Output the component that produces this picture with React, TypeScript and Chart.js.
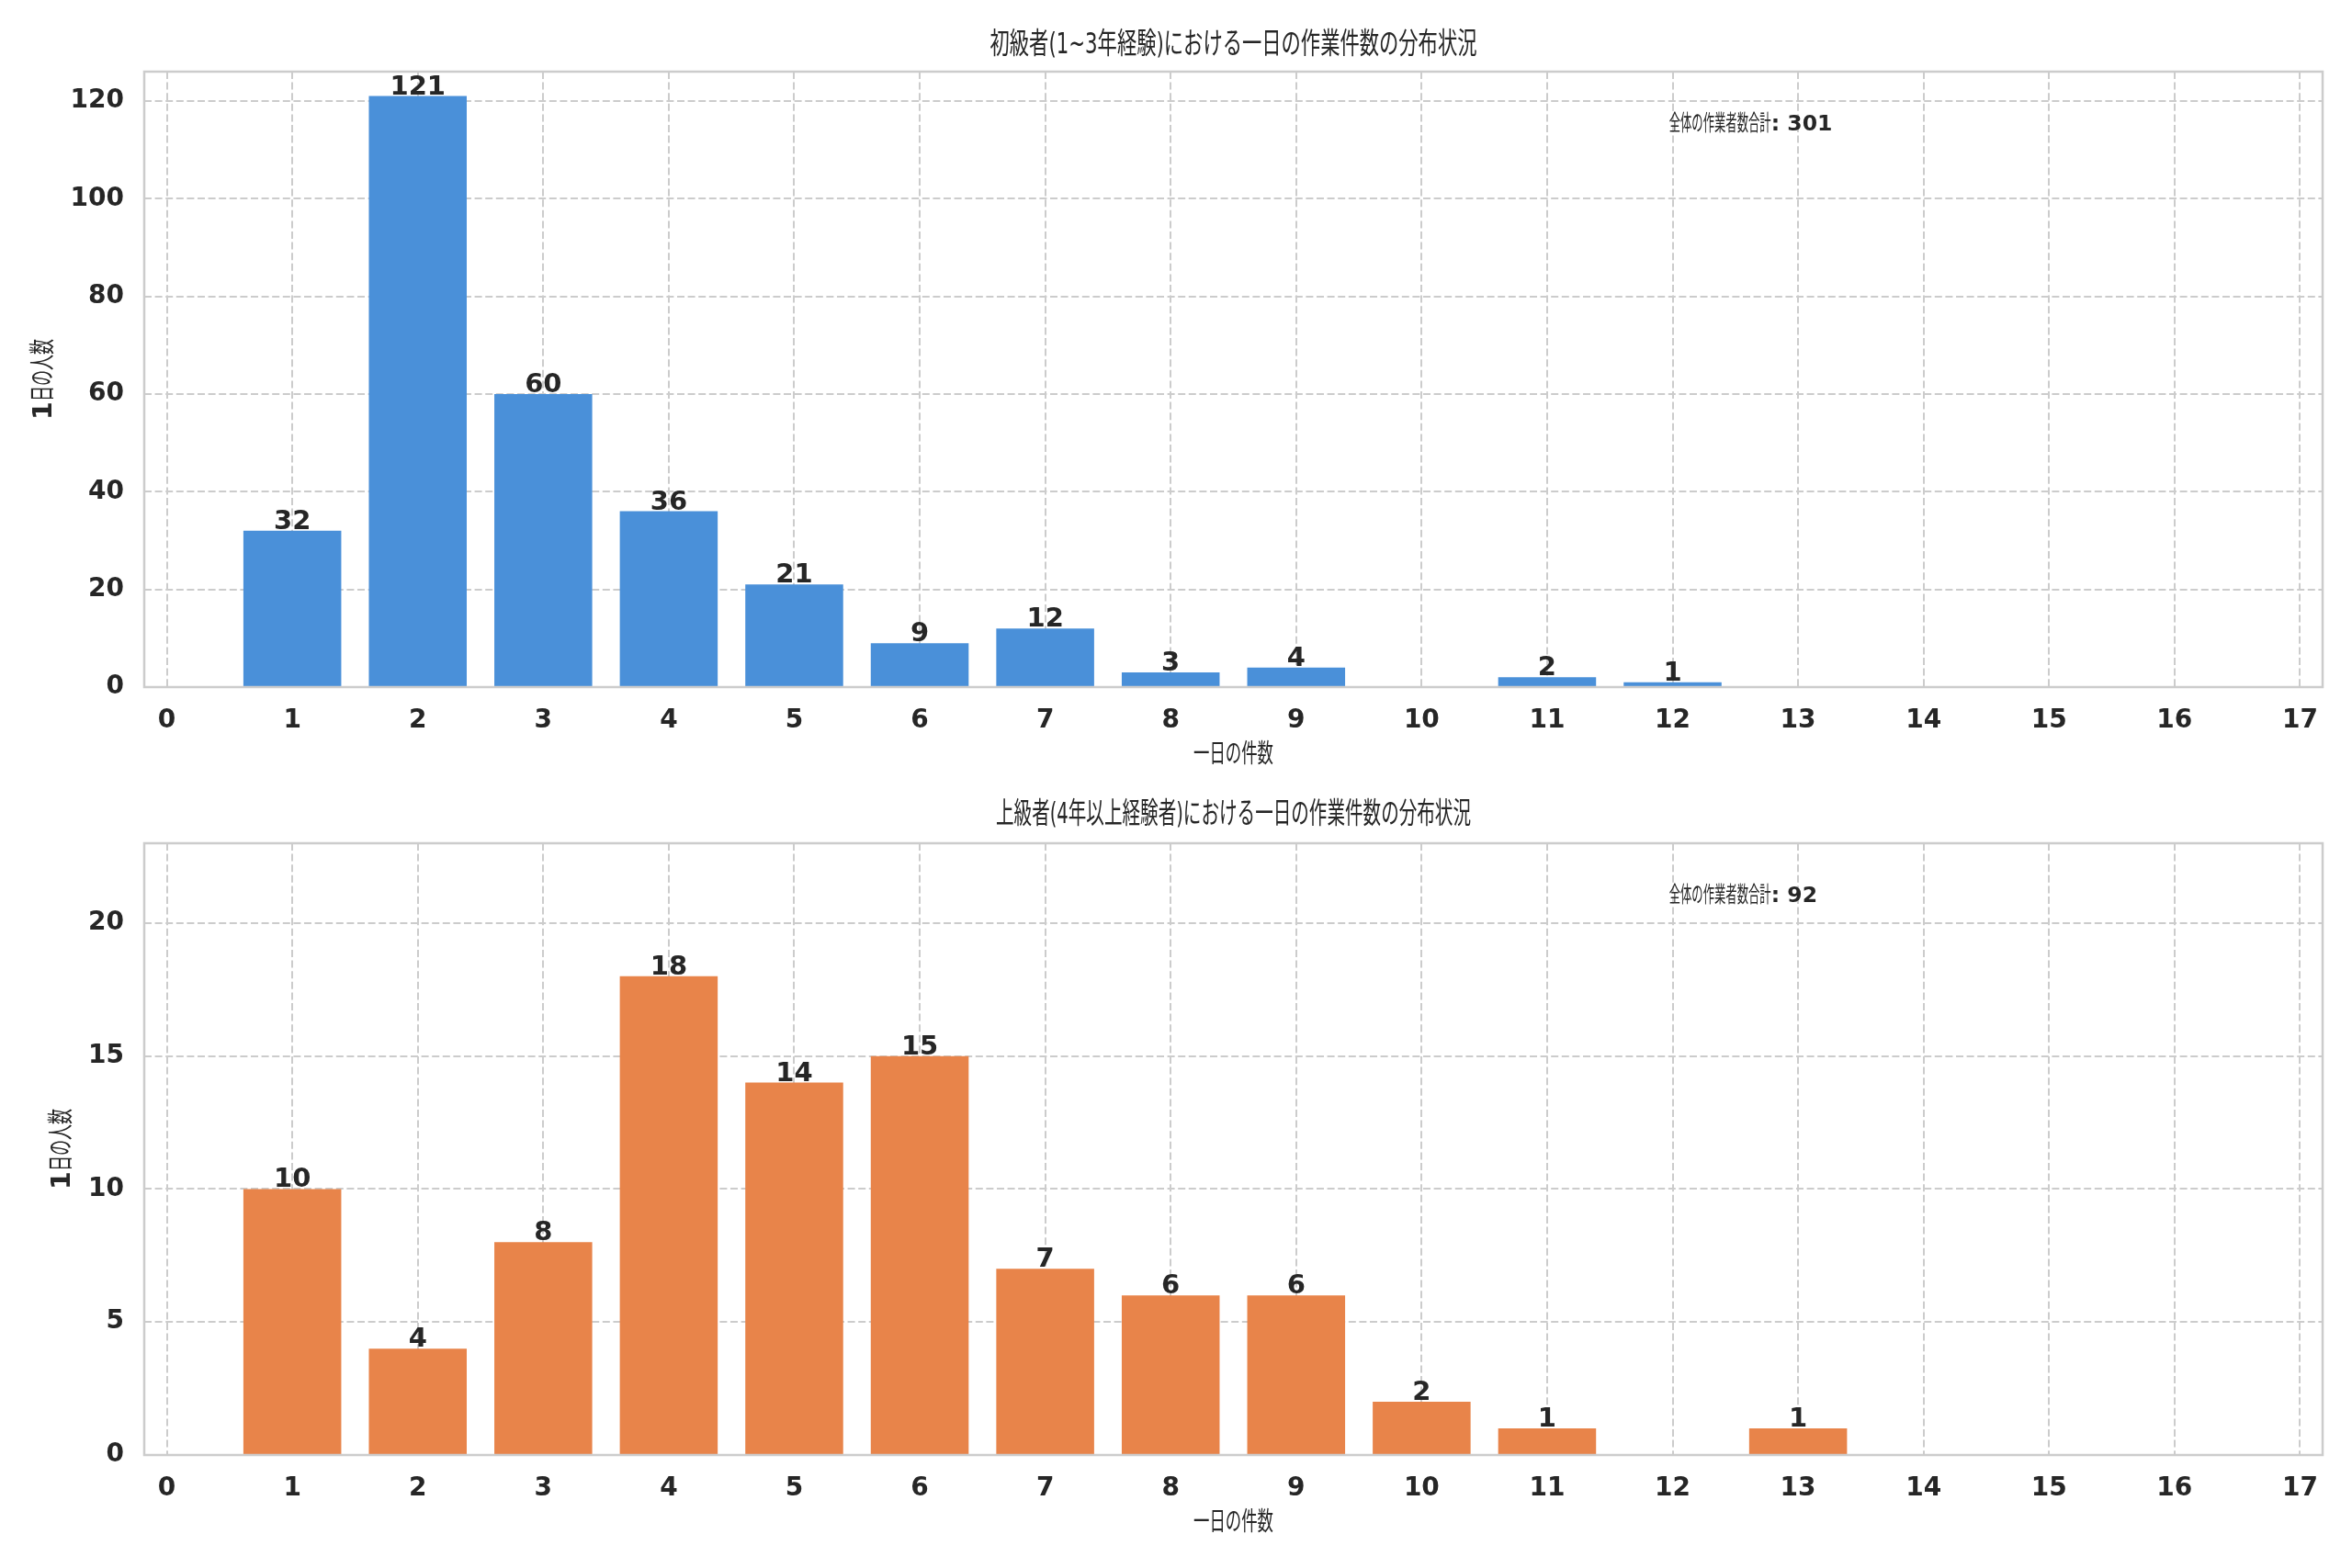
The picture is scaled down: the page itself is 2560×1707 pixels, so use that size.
import React, { useEffect, useRef } from "react";
import { Chart, registerables } from "chart.js";

Chart.register(...registerables);

// ---------- data ----------
const categoriesTop = [1, 2, 3, 4, 5, 6, 7, 8, 9, 10, 11, 12];
const valuesTop = [32, 121, 60, 36, 21, 9, 12, 3, 4, 0, 2, 1];

const categoriesBottom = [1, 2, 3, 4, 5, 6, 7, 8, 9, 10, 11, 12, 13];
const valuesBottom = [10, 4, 8, 18, 14, 15, 7, 6, 6, 2, 1, 0, 1];

const xTickValues = [0, 1, 2, 3, 4, 5, 6, 7, 8, 9, 10, 11, 12, 13, 14, 15, 16, 17];

const titleTop = "初級者(1~3年経験)における一日の作業件数の分布状況";
const titleBottom = "上級者(4年以上経験者)における一日の作業件数の分布状況";
const xAxisLabel = "一日の件数";
const yAxisLabelLead = "1";
const yAxisLabelRest = "日の人数";
const totalLabel = "全体の作業者数合計";

// ---------- style ----------
const W = 2560;
const FONT = '"DejaVu Sans", "Noto Sans CJK JP", sans-serif';
const TEXT = "#262626";
const GRID = "#cccccc";
const BLUE = "#4A90D9";
const ORANGE = "#E8844A";

type PanelCfg = {
  h: number;
  plotTop: number;
  plotBottom: number;
  titleY: number;
  titleW: number;
  xLabelY: number;
  yLabelX: number;
  cats: number[];
  vals: number[];
  color: string;
  yMax: number;
  yStep: number;
  title: string;
};

const PLOT_LEFT = 157;
const PLOT_RIGHT = 2528;
const LABEL_SIZE = 28.5;

function buildConfig(cfg: PanelCfg): any {
  const total = cfg.vals.reduce((a, b) => a + b, 0);

  const overlay = {
    id: "overlay",
    afterDatasetsDraw(chart: any) {
      const { ctx, chartArea } = chart;
      const { left, top, right, bottom } = chartArea;
      const cx = (left + right) / 2;
      const cy = (top + bottom) / 2;
      ctx.save();
      // spines
      ctx.strokeStyle = GRID;
      ctx.lineWidth = 2.5;
      ctx.strokeRect(left, top, right - left, bottom - top);
      // value labels
      ctx.fillStyle = TEXT;
      ctx.font = `bold 29px ${FONT}`;
      ctx.textAlign = "center";
      ctx.textBaseline = "alphabetic";
      const meta = chart.getDatasetMeta(0);
      meta.data.forEach((bar: any, i: number) => {
        const v = cfg.vals[i];
        if (v > 0) ctx.fillText(String(v), bar.x, bar.y - 2);
      });
      // total annotation
      const ax = left + 0.7 * (right - left);
      const ay = top + 0.087 * (bottom - top);
      ctx.textAlign = "left";
      ctx.textBaseline = "middle";
      ctx.font = `normal 23.5px ${FONT}`;
      const capW = Math.min(ctx.measureText(totalLabel).width, 111);
      ctx.fillText(totalLabel, ax, ay, 111);
      ctx.font = `bold 23.5px ${FONT}`;
      ctx.fillText(`: ${total}`, ax + capW, ay);
      // title
      ctx.font = `normal 32px ${FONT}`;
      ctx.textAlign = "center";
      ctx.textBaseline = "middle";
      ctx.fillText(cfg.title, cx, cfg.titleY, cfg.titleW);
      // x axis label
      ctx.font = `normal ${LABEL_SIZE}px ${FONT}`;
      ctx.fillText(xAxisLabel, cx, cfg.xLabelY, 87);
      // y axis label (rotated)
      ctx.translate(cfg.yLabelX, cy);
      ctx.rotate(-Math.PI / 2);
      ctx.textAlign = "left";
      ctx.font = `bold ${LABEL_SIZE}px ${FONT}`;
      const w1 = ctx.measureText(yAxisLabelLead).width;
      ctx.font = `normal ${LABEL_SIZE}px ${FONT}`;
      const w2 = Math.min(ctx.measureText(yAxisLabelRest).width, 68);
      const start = -(w1 + w2) / 2;
      ctx.font = `bold ${LABEL_SIZE}px ${FONT}`;
      ctx.fillText(yAxisLabelLead, start, 0);
      ctx.font = `normal ${LABEL_SIZE}px ${FONT}`;
      ctx.fillText(yAxisLabelRest, start + w1, 0, 68);
      ctx.restore();
    },
  };

  return {
    type: "bar",
    data: {
      datasets: [
        {
          data: cfg.cats.map((c, i) => ({ x: c, y: cfg.vals[i] })),
          backgroundColor: cfg.color,
          borderWidth: 0,
          barPercentage: 0.78,
          categoryPercentage: 1.0,
        },
      ],
    },
    options: {
      animation: false,
      responsive: false,
      maintainAspectRatio: false,
      devicePixelRatio: 1,
      layout: {
        padding: { top: cfg.plotTop, right: W - PLOT_RIGHT, bottom: 0, left: 0 },
      },
      plugins: {
        legend: { display: false },
        tooltip: { enabled: false },
        title: { display: false },
      },
      scales: {
        x: {
          type: "linear",
          min: -0.18,
          max: 17.18,
          offset: false,
          afterFit: (scale: any) => {
            scale.height = cfg.h - cfg.plotBottom;
          },
          afterBuildTicks: (scale: any) => {
            scale.ticks = xTickValues.map((v) => ({ value: v }));
          },
          ticks: {
            autoSkip: false,
            maxRotation: 0,
            minRotation: 0,
            padding: 19.5,
            color: TEXT,
            font: { family: FONT, size: 28, weight: "bold", lineHeight: 1.2 },
            callback: (v: any) => String(v),
          },
          grid: {
            color: GRID,
            lineWidth: 2,
            drawTicks: false,
            offset: false,
          },
          border: { display: false, dash: [8, 3.6] },
          title: { display: false },
        },
        y: {
          type: "linear",
          min: 0,
          max: cfg.yMax,
          afterFit: (scale: any) => {
            scale.width = PLOT_LEFT;
          },
          ticks: {
            stepSize: cfg.yStep,
            includeBounds: false,
            padding: 22,
            color: TEXT,
            font: { family: FONT, size: 28, weight: "bold", lineHeight: 1.2 },
          },
          grid: {
            color: GRID,
            lineWidth: 2,
            drawTicks: false,
          },
          border: { display: false, dash: [8, 3.6] },
          title: { display: false },
        },
      },
    },
    plugins: [overlay],
  };
}

function BarPanel({ cfg }: { cfg: PanelCfg }) {
  const ref = useRef<HTMLCanvasElement>(null);
  useEffect(() => {
    if (!ref.current) return;
    const chart = new Chart(ref.current, buildConfig(cfg));
    return () => chart.destroy();
  }, []);
  return (
    <canvas
      ref={ref}
      width={W}
      height={cfg.h}
      style={{ display: "block", width: W, height: cfg.h }}
    />
  );
}

const topCfg: PanelCfg = {
  h: 853,
  plotTop: 78,
  plotBottom: 748,
  titleY: 50,
  titleW: 530,
  xLabelY: 823,
  yLabelX: 49,
  cats: categoriesTop,
  vals: valuesTop,
  color: BLUE,
  yMax: 126,
  yStep: 20,
  title: titleTop,
};

const bottomCfg: PanelCfg = {
  h: 854,
  plotTop: 65,
  plotBottom: 731,
  titleY: 35,
  titleW: 517,
  xLabelY: 806,
  yLabelX: 69,
  cats: categoriesBottom,
  vals: valuesBottom,
  color: ORANGE,
  yMax: 23,
  yStep: 5,
  title: titleBottom,
};

export default function App() {
  return (
    <div
      style={{
        position: "absolute",
        left: 0,
        top: 0,
        width: W,
        height: 1707,
        background: "#ffffff",
      }}
    >
      <BarPanel cfg={topCfg} />
      <BarPanel cfg={bottomCfg} />
    </div>
  );
}
